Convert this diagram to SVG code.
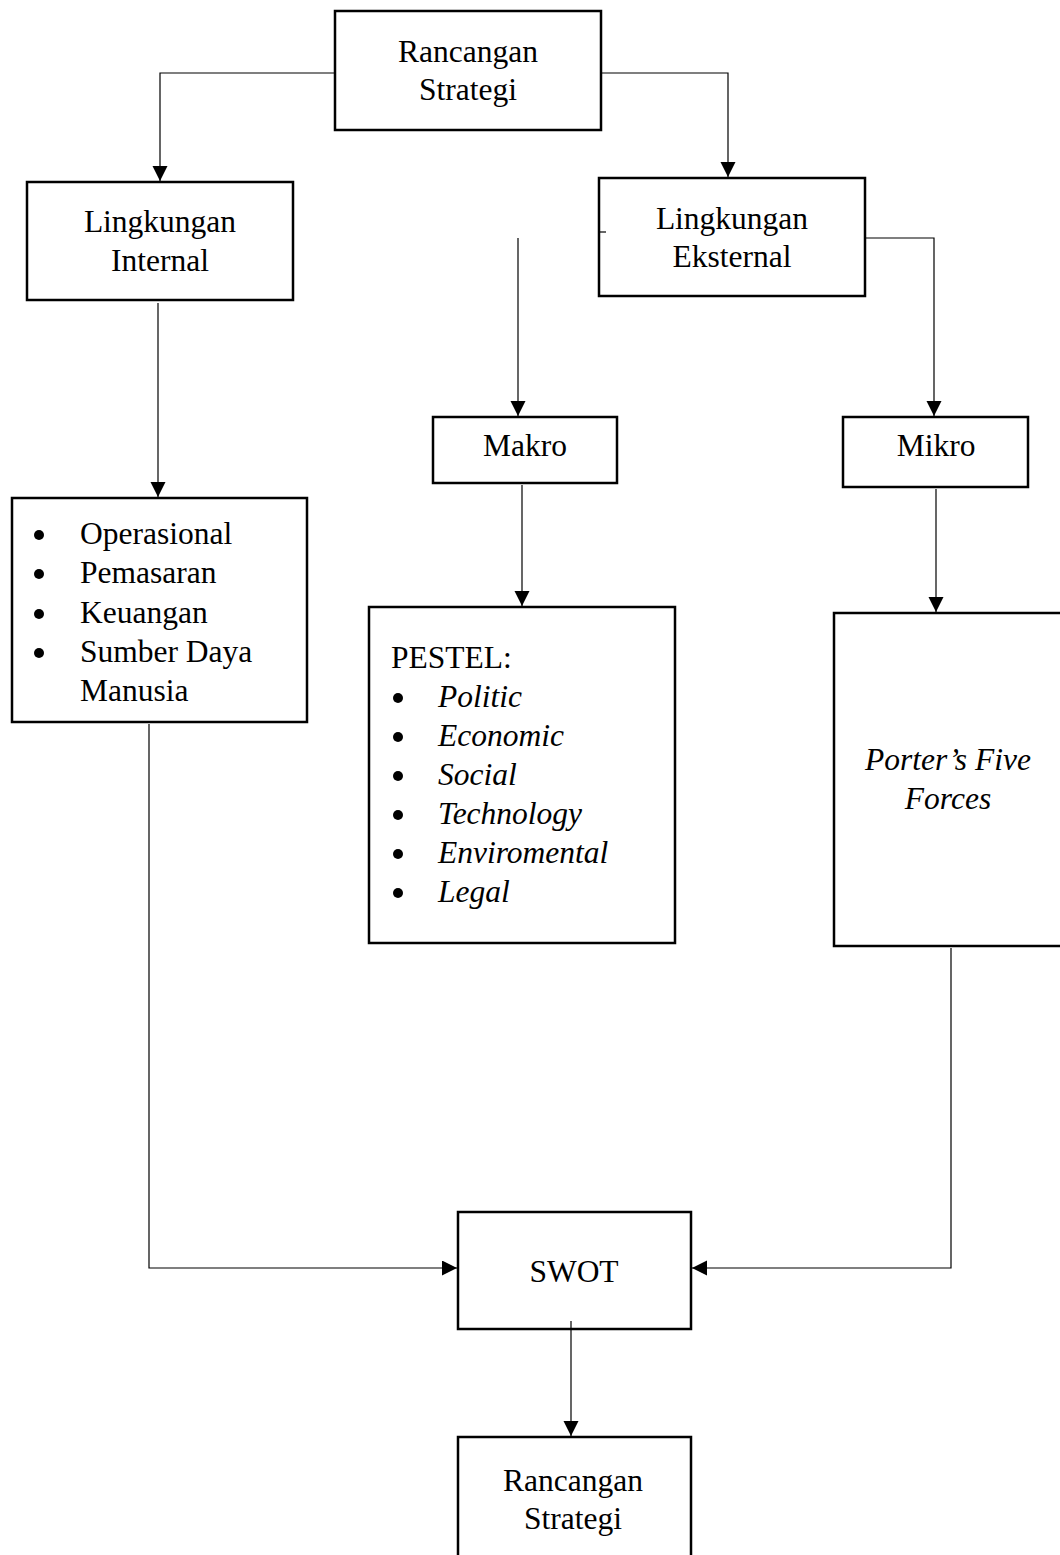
<svg xmlns="http://www.w3.org/2000/svg" width="1060" height="1555" viewBox="0 0 1060 1555">
<style>
.box{fill:#fff;stroke:#000;stroke-width:2.5}
.t{font-family:"Liberation Serif","Times New Roman",serif;font-size:31.5px;fill:#000}
.c{text-anchor:middle}
.i{font-style:italic}
.ln{fill:none;stroke:#000;stroke-width:1.2}
.b{fill:#000}
</style>
<defs>
<marker id="ah" markerUnits="userSpaceOnUse" markerWidth="16" markerHeight="16" viewBox="0 0 16 16" refX="15" refY="7.5" orient="auto">
<path d="M0,0 L15,7.5 L0,15 z" fill="#000"/>
</marker>
</defs>
<rect width="1060" height="1555" fill="#fff"/>
<g id="rancangan-top">
<rect class="box" x="335" y="11" width="266" height="119"/>
<text class="t c" x="468" y="62">Rancangan</text>
<text class="t c" x="468" y="100">Strategi</text>
</g>
<g id="ling-internal">
<rect class="box" x="27" y="182" width="266" height="118"/>
<text class="t c" x="160" y="232">Lingkungan</text>
<text class="t c" x="160" y="271">Internal</text>
</g>
<g id="ling-eksternal">
<rect class="box" x="599" y="178" width="266" height="118"/>
<text class="t c" x="732" y="229">Lingkungan</text>
<text class="t c" x="732" y="267">Eksternal</text>
</g>
<g id="makro">
<rect class="box" x="433" y="417" width="184" height="66"/>
<text class="t c" x="525" y="456">Makro</text>
</g>
<g id="mikro">
<rect class="box" x="843" y="417" width="185" height="70"/>
<text class="t c" x="936" y="456">Mikro</text>
</g>
<g id="internal-list">
<rect class="box" x="12" y="498" width="295" height="224"/>
<circle class="b" cx="39" cy="535" r="5"/>
<circle class="b" cx="39" cy="574" r="5"/>
<circle class="b" cx="39" cy="614" r="5"/>
<circle class="b" cx="39" cy="653" r="5"/>
<text class="t" x="80" y="544">Operasional</text>
<text class="t" x="80" y="583">Pemasaran</text>
<text class="t" x="80" y="623">Keuangan</text>
<text class="t" x="80" y="662">Sumber Daya</text>
<text class="t" x="80" y="701">Manusia</text>
</g>
<g id="pestel">
<rect class="box" x="369" y="607" width="306" height="336"/>
<text class="t" x="391" y="668">PESTEL:</text>
<circle class="b" cx="398" cy="698" r="5"/>
<circle class="b" cx="398" cy="737" r="5"/>
<circle class="b" cx="398" cy="776" r="5"/>
<circle class="b" cx="398" cy="815" r="5"/>
<circle class="b" cx="398" cy="854" r="5"/>
<circle class="b" cx="398" cy="893" r="5"/>
<text class="t i" x="438" y="707">Politic</text>
<text class="t i" x="438" y="746">Economic</text>
<text class="t i" x="438" y="785">Social</text>
<text class="t i" x="438" y="824">Technology</text>
<text class="t i" x="438" y="863">Enviromental</text>
<text class="t i" x="438" y="902">Legal</text>
</g>
<g id="porter">
<rect class="box" x="834" y="613" width="260" height="333"/>
<text class="t c i" x="948" y="770">Porter’s Five</text>
<text class="t c i" x="948" y="809">Forces</text>
</g>
<g id="swot">
<rect class="box" x="458" y="1212" width="233" height="117"/>
<text class="t c" x="574" y="1282">SWOT</text>
</g>
<g id="rancangan-bottom">
<rect class="box" x="458" y="1437" width="233" height="130"/>
<text class="t c" x="573" y="1491">Rancangan</text>
<text class="t c" x="573" y="1529">Strategi</text>
</g>
<g id="connectors">
<polyline class="ln" points="334,73 160,73 160,181" marker-end="url(#ah)"/>
<polyline class="ln" points="602,73 728,73 728,177" marker-end="url(#ah)"/>
<line class="ln" x1="158" y1="303" x2="158" y2="497" marker-end="url(#ah)"/>
<line class="ln" x1="518" y1="238" x2="518" y2="416" marker-end="url(#ah)"/>
<polyline class="ln" points="866,238 934,238 934,416" marker-end="url(#ah)"/>
<line class="ln" x1="522" y1="485" x2="522" y2="606" marker-end="url(#ah)"/>
<line class="ln" x1="936" y1="489" x2="936" y2="612" marker-end="url(#ah)"/>
<polyline class="ln" points="149,724 149,1268 457,1268" marker-end="url(#ah)"/>
<polyline class="ln" points="951,948 951,1268 692,1268" marker-end="url(#ah)"/>
<line class="ln" x1="571" y1="1321" x2="571" y2="1436" marker-end="url(#ah)"/>
<line class="ln" x1="599" y1="232" x2="606" y2="232"/>
</g>
</svg>
